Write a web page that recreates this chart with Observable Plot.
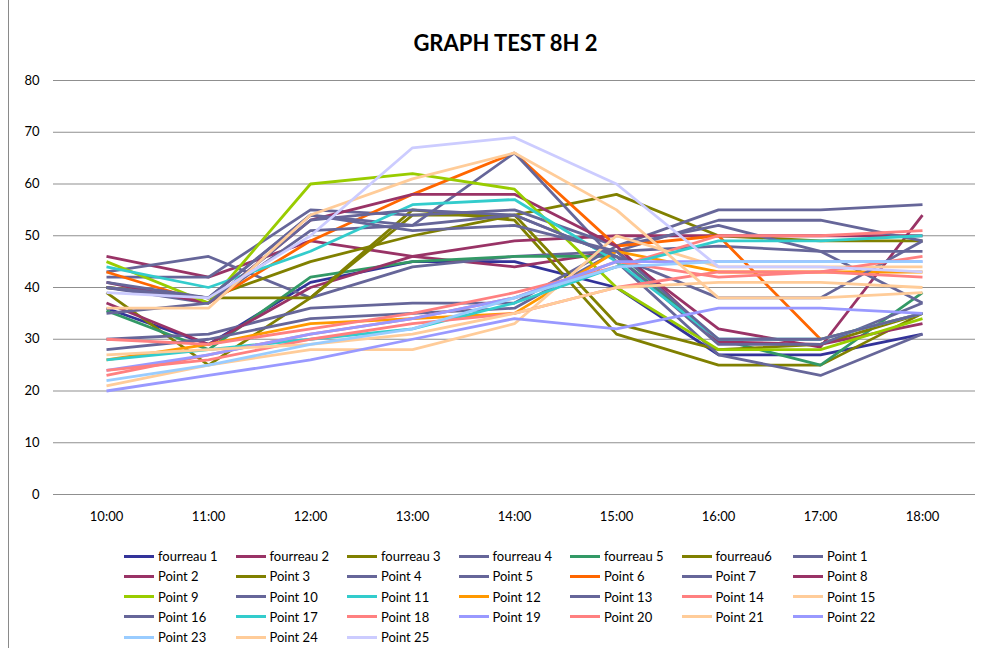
<!DOCTYPE html>
<html>
<head>
<meta charset="utf-8">
<script src="https://cdn.jsdelivr.net/npm/d3@7"></script>
<script src="https://cdn.jsdelivr.net/npm/@observablehq/plot@0.6"></script>
<style>
  html, body { margin: 0; padding: 0; background: #fff; }
  body { width: 995px; height: 648px; position: relative; overflow: hidden; font-family: Lato, "Open Sans", sans-serif; }
  #frame { position: absolute; left: 8px; top: -2px; width: 1200px; height: 700px; border-left: 1px solid #8a8a8a; }
  #title { position: absolute; left: 0; width: 1011px; top: 29px; text-align: center; font-weight: bold; font-size: 22px; color: #000; }
  #chart { position: absolute; left: 0; top: 0; }
  #legend { position: absolute; left: 0; top: 0; }
  .li { position: absolute; font-size: 13px; color: #000; white-space: nowrap; line-height: 16px; }
  .sw { position: absolute; width: 30px; height: 3px; }
</style>
</head>
<body>
<div id="frame"></div>
<div id="chart"></div>
<div id="title">GRAPH TEST 8H 2</div>
<div id="legend"></div>
<script>
const times = ["10:00","11:00","12:00","13:00","14:00","15:00","16:00","17:00","18:00"];
const yTicks = [0,10,20,30,40,50,60,70,80];
const seriesNames = ["fourreau 1","fourreau 2","fourreau 3","fourreau 4","fourreau 5","fourreau6",
  "Point 1","Point 2","Point 3","Point 4","Point 5","Point 6","Point 7","Point 8","Point 9","Point 10",
  "Point 11","Point 12","Point 13","Point 14","Point 15","Point 16","Point 17","Point 18","Point 19",
  "Point 20","Point 21","Point 22","Point 23","Point 24","Point 25"];
const seriesColors = ["#333399","#993366","#808000","#666699","#339966","#808000",
  "#666699","#993366","#808000","#666699","#666699","#FF6600","#666699","#993366","#99CC00","#666699",
  "#33CCCC","#FF9900","#666699","#FF8080","#FFCC99","#666699","#33CCCC","#FF8080","#9999FF",
  "#FF8080","#FFCC99","#9999FF","#99CCFF","#FFCC99","#CCCCFF"];

const fourreau1 = [36, 29, 41, 45, 45, 40, 27, 27, 31];
const fourreau2 = [46, 42, 49, 46, 44, 47, 32, 28.5, 54];
const fourreau3 = [39, 25, 38, 55, 53, 31, 25, 25, 35];
const fourreau4 = [43, 46, 38, 44, 46, 47, 48, 47, 47];
const fourreau5 = [35.5, 28, 42, 45, 46, 46, 30, 25, 39];
const fourreau6 = [40, 38, 45, 50, 54, 58, 50, 49, 49];
const point1  = [30, 31, 36, 37, 37, 48, 55, 55, 56];
const point2  = [37, 29, 40, 46, 49, 50, 50, 50, 50];
const point3  = [40, 38, 38, 54, 54, 33, 28, 29, 35];
const point4  = [42, 42, 55, 54, 55, 48, 52, 47, 37];
const point5  = [28, 30, 34, 35, 36, 47, 53, 53, 49];
const point6  = [43, 37, 49, 58, 66, 48, 50, 30, 35];
const point7  = [40, 37, 51, 52, 66, 45, 27, 23, 31];
const point8  = [41, 37, 53, 58, 58, 48, 29.5, 29, 33];
const point9  = [45, 37, 60, 62, 59, 40, 28, 28, 34];
const point10 = [41, 38, 54, 52, 54, 46, 29, 29, 37];
const point11 = [44, 40, 47, 56, 57, 45, 30, 30, 35];
const point12 = [26, 29, 33, 34, 35, 47, 43, 43, 43];
const point13 = [35, 37, 53, 55, 54, 46, 38, 38, 49];
const point14 = [30, 29, 32, 35, 39, 44, 50, 50, 51];
const point15 = [21, 25, 28, 28, 33, 50, 44, 44, 44];
const point16 = [40, 38, 54, 51, 52, 47, 30, 30, 35];
const point17 = [26, 28, 30, 32, 37, 44, 49, 49, 50];
const point18 = [23, 27, 31, 34, 38, 45, 42, 43, 46];
const point19 = [24, 27, 31, 34, 38, 45, 45, 45, 45];
const point20 = [24, 26, 30, 33, 35, 40, 43, 43, 42];
const point21 = [27, 28, 29, 31, 35, 40, 41, 41, 40];
const point22 = [20, 23, 26, 30, 34, 32, 36, 36, 35];
const point23 = [22, 25, 29, 32, 38, 44, 45, 45, 45];
const point24 = [36, 36, 54, 61, 66, 55, 38, 38, 39];
const point25 = [39, 38, 50, 67, 69, 60, 44, 44, 43];

const seriesValues = [fourreau1, fourreau2, fourreau3, fourreau4, fourreau5, fourreau6,
  point1, point2, point3, point4, point5, point6, point7, point8, point9, point10,
  point11, point12, point13, point14, point15, point16, point17, point18, point19,
  point20, point21, point22, point23, point24, point25];

const rows = [];
seriesNames.forEach((name, i) => {
  seriesValues[i].forEach((v, j) => rows.push({series: name, time: times[j], value: v}));
});

const chart = Plot.plot({
  width: 995,
  height: 535,
  marginLeft: 53,
  marginRight: 20,
  marginTop: 80,
  marginBottom: 41,
  style: {fontFamily: "Lato, sans-serif", fontSize: "13px", color: "#000", background: "transparent"},
  x: {type: "point", domain: times, padding: 0.5, label: null},
  y: {domain: [0, 80], ticks: yTicks, label: null},
  color: {domain: seriesNames, range: seriesColors},
  marks: [
    Plot.ruleY(yTicks, {stroke: "#8f8f8f", strokeWidth: 1.2, strokeOpacity: 1}),
    Plot.axisY({ticks: yTicks, tickSize: 0, tickPadding: 14, label: null, fontSize: 13}),
    Plot.axisX({tickSize: 0, tickPadding: 17, label: null, fontSize: 13}),
    Plot.line(rows, {x: "time", y: "value", z: "series", stroke: "series", strokeWidth: 2.8, strokeLinejoin: "miter", strokeLinecap: "butt"})
  ]
});
document.getElementById("chart").appendChild(chart);

const legend = document.getElementById("legend");
const colX = [124, 235.5, 347, 458.5, 570, 681.5, 793];
const rowY = [556, 576.3, 596.6, 616.9, 637.2];
seriesNames.forEach((name, i) => {
  const c = i % 7, r = Math.floor(i / 7);
  const sw = document.createElement("div");
  sw.className = "sw";
  sw.style.left = colX[c] + "px";
  sw.style.top = (rowY[r] - 1.5) + "px";
  sw.style.background = seriesColors[i];
  legend.appendChild(sw);
  const t = document.createElement("div");
  t.className = "li";
  t.textContent = name;
  t.style.left = (colX[c] + 34) + "px";
  t.style.top = (rowY[r] - 8) + "px";
  legend.appendChild(t);
});
</script>
</body>
</html>
